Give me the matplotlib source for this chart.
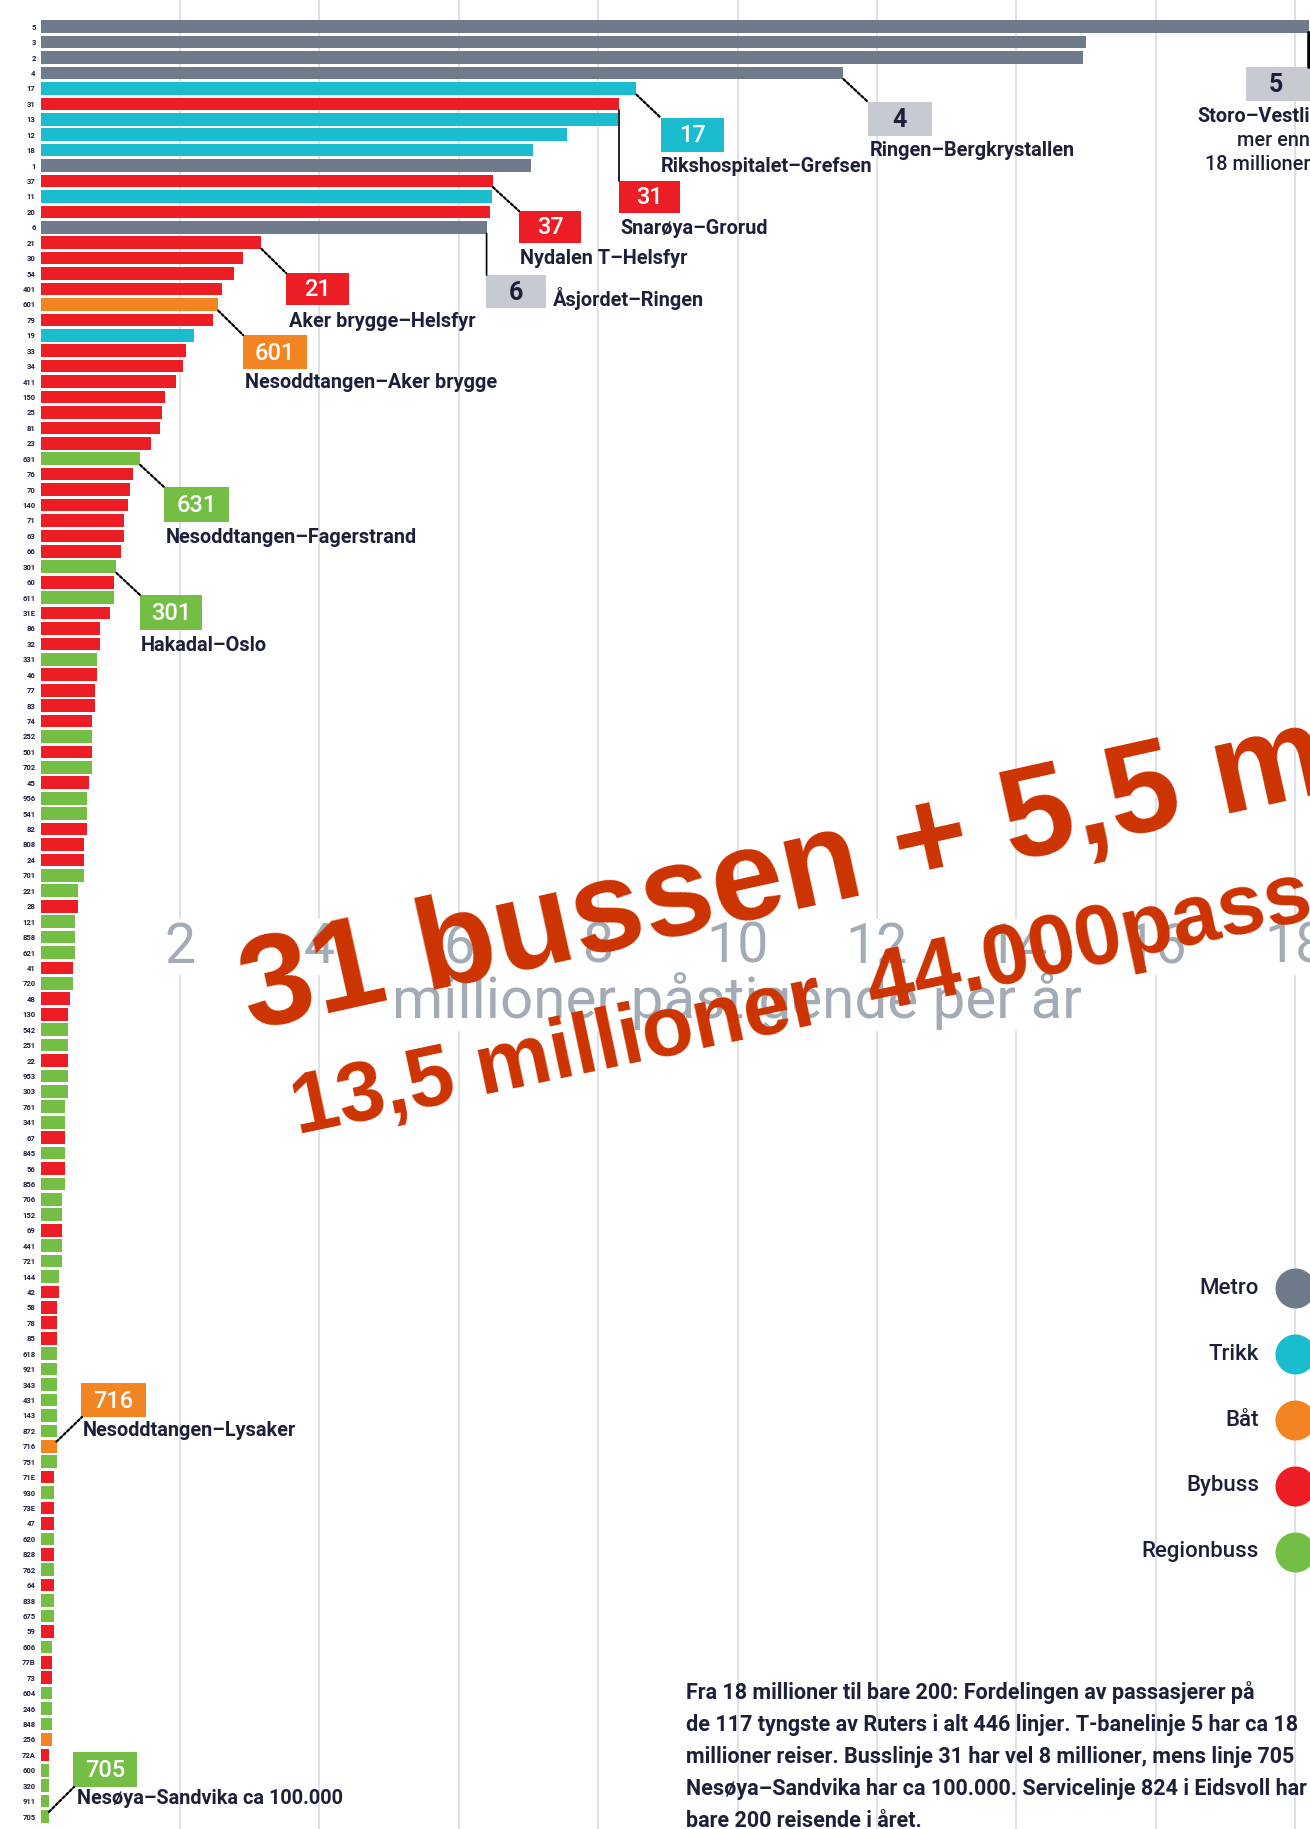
import matplotlib.pyplot as plt
import matplotlib.patches as patches
from matplotlib.patches import ConnectionPatch
from matplotlib.transforms import blended_transform_factory

# ---------------------------------------------
# data: the 117 busiest Ruter lines (million boardings per year)
# ---------------------------------------------
route_numbers = [
    "5", "3", "2", "4", "17", "31", "13", "12", "18", "1",
    "37", "11", "20", "6", "21", "30", "54", "401", "601", "79",
    "19", "33", "34", "411", "150", "25", "81", "23", "631", "76",
    "70", "140", "71", "63", "66", "301", "60", "611", "31E", "86",
    "32", "331", "46", "77", "83", "74", "252", "501", "702", "45",
    "956", "541", "82", "808", "24", "701", "221", "28", "121", "858",
    "621", "41", "720", "48", "130", "542", "251", "22", "953", "303",
    "761", "341", "67", "845", "56", "856", "706", "152", "69", "441",
    "721", "144", "42", "58", "78", "85", "618", "921", "343", "431",
    "143", "872", "716", "751", "71E", "930", "73E", "47", "620", "828",
    "762", "64", "838", "675", "59", "606", "77B", "73", "604", "246",
    "848", "256", "72A", "600", "320", "911", "705",
]
modes = [
    "M", "M", "M", "M", "T", "R", "T", "T", "T", "M",
    "R", "T", "R", "M", "R", "R", "R", "R", "B", "R",
    "T", "R", "R", "R", "R", "R", "R", "R", "G", "R",
    "R", "R", "R", "R", "R", "G", "R", "G", "R", "R",
    "R", "G", "R", "R", "R", "R", "G", "R", "G", "R",
    "G", "G", "R", "R", "R", "G", "G", "R", "G", "G",
    "G", "R", "G", "R", "R", "G", "G", "R", "G", "G",
    "G", "G", "R", "G", "R", "G", "G", "G", "R", "G",
    "G", "G", "R", "R", "R", "R", "G", "G", "G", "G",
    "G", "G", "B", "G", "R", "G", "R", "R", "G", "R",
    "G", "R", "G", "G", "R", "G", "R", "R", "G", "G",
    "G", "B", "R", "G", "G", "G", "G",
]
values = [
    18.2, 15.0, 14.95, 11.52, 8.55, 8.3, 8.28, 7.55, 7.07, 7.04,
    6.49, 6.48, 6.45, 6.4, 3.17, 2.9, 2.78, 2.6, 2.55, 2.48,
    2.2, 2.09, 2.05, 1.94, 1.78, 1.75, 1.71, 1.59, 1.43, 1.32,
    1.28, 1.25, 1.2, 1.2, 1.16, 1.09, 1.05, 1.05, 1.0, 0.85,
    0.85, 0.81, 0.81, 0.78, 0.78, 0.74, 0.74, 0.74, 0.74, 0.7,
    0.66, 0.66, 0.66, 0.62, 0.62, 0.62, 0.54, 0.54, 0.5, 0.5,
    0.5, 0.46, 0.46, 0.43, 0.39, 0.39, 0.39, 0.39, 0.39, 0.39,
    0.35, 0.35, 0.35, 0.35, 0.35, 0.35, 0.31, 0.31, 0.31, 0.31,
    0.31, 0.27, 0.27, 0.23, 0.23, 0.23, 0.23, 0.23, 0.23, 0.23,
    0.23, 0.23, 0.23, 0.23, 0.2, 0.2, 0.2, 0.2, 0.2, 0.2,
    0.2, 0.2, 0.2, 0.2, 0.2, 0.16, 0.16, 0.16, 0.16, 0.16,
    0.16, 0.16, 0.12, 0.12, 0.12, 0.12, 0.12,
]
x_ticks = [2, 4, 6, 8, 10, 12, 14, 16, 18]
mode_keys = ["M", "T", "B", "R", "G"]
mode_names = ["Metro", "Trikk", "Båt", "Bybuss", "Regionbuss"]
mode_colors = ["#6f7a8a", "#1bbccd", "#f28522", "#ec1d25", "#74be45"]

# ---------------------------------------------
# canvas / layout (pixel based, 1310 x 1829)
# ---------------------------------------------
W, H = 1310, 1829
X0, PXU = 40.5, 69.7  # pixel of value 0, pixels per million
ROW0, ROWP = 26.7, 15.43  # pixel centre of first row, row pitch
DARK = "#1c2038"
GRID = "#dde2e8"
TICKGRAY = "#a3abb5"
BOXGRAY = "#c7cad1"
DIN = "Roboto"
ROUTE_FS = 14.3


def fx(px):
    return px / W


def fy(py):
    return 1 - py / H


color_of = dict(zip(mode_keys, mode_colors))

fig = plt.figure(figsize=(W / 100, H / 100), dpi=100)
fig.patch.set_facecolor("white")

ax = fig.add_axes([X0 / W, 0, 1 - X0 / W, 1])
ax.set_xlim(0, (W - X0) / PXU)
ax.set_ylim((H - ROW0) / ROWP, -ROW0 / ROWP)
rows = list(range(len(values)))
ax.barh(rows, values, height=0.82, color=[color_of[m] for m in modes], zorder=2)

ax.set_yticks(rows)
ax.set_yticklabels(route_numbers, fontsize=5.5, fontweight="bold", color=DARK, family=DIN)
ax.tick_params(axis="y", length=0, pad=3.5)
ax.set_xticks(x_ticks)
ax.tick_params(axis="x", length=0, labelbottom=False)
ax.grid(axis="x", color=GRID, lw=1.4)
ax.grid(axis="y", visible=False)
ax.set_axisbelow(True)
for s in ax.spines.values():
    s.set_visible(False)

# tick numbers sit in the middle of the chart
mid = blended_transform_factory(ax.transData, fig.transFigure)
for v in x_ticks:
    ax.text(v, fy(947), str(v), transform=mid, ha="center", va="center",
            fontsize=40, color=TICKGRAY, family=DIN,
            bbox=dict(fc="white", ec="none", pad=1), zorder=3)
ax.text(10, fy(1001), "millioner påstigende per år", transform=mid,
        ha="center", va="center", fontsize=42, color=TICKGRAY, family=DIN,
        bbox=dict(fc="white", ec="none", pad=1), zorder=3)

# ---------------------------------------------
# callouts
# ---------------------------------------------
callouts = [
    # row, box (x0, y0, x1, y1), leader, number x, route text lines
    dict(row=0, box=(1246, 67, 1330, 101), lead="vthick", numx=1276),
    dict(row=3, box=(868, 102, 932, 136), lead="diag",
         text=[("Ringen–Bergkrystallen", 870, 151)]),
    dict(row=4, box=(661, 118, 724, 152), lead="diag",
         text=[("Rikshospitalet–Grefsen", 661, 167)]),
    dict(row=5, box=(619, 181, 680, 213), lead="vert",
         text=[("Snarøya–Grorud", 620, 229)]),
    dict(row=10, box=(519, 211, 581, 243), lead="diag",
         text=[("Nydalen T–Helsfyr", 520, 259)]),
    dict(row=13, box=(486, 275, 546, 308), lead="vert",
         text=[("Åsjordet–Ringen", 553, 299)]),
    dict(row=14, box=(286, 273, 349, 305), lead="diag",
         text=[("Aker brygge–Helsfyr", 289, 321)]),
    dict(row=18, box=(243, 335, 307, 369), lead="diag",
         text=[("Nesoddtangen–Aker brygge", 245, 383)]),
    dict(row=28, box=(164, 487, 229, 522), lead="diag",
         text=[("Nesoddtangen–Fagerstrand", 166, 537)]),
    dict(row=35, box=(140, 595, 202, 630), lead="diag",
         text=[("Hakadal–Oslo", 141, 645)]),
    dict(row=92, box=(81, 1383, 146, 1417), lead="up",
         text=[("Nesoddtangen–Lysaker", 83, 1431)]),
    dict(row=116, box=(73, 1752, 137, 1787), lead="up",
         text=[("Nesøya–Sandvika ca 100.000", 77, 1799)]),
]

for c in callouts:
    r = c["row"]
    x0, y0, x1, y1 = c["box"]
    metro = modes[r] == "M"
    fc = BOXGRAY if metro else color_of[modes[r]]
    fig.add_artist(patches.Rectangle((fx(x0), fy(y1)), (x1 - x0) / W, (y1 - y0) / H,
                                     transform=fig.transFigure, fc=fc, ec="none", zorder=4))
    nx = c.get("numx", (x0 + x1) / 2)
    fig.text(fx(nx), fy((y0 + y1) / 2 + 1), route_numbers[r], ha="center", va="center",
             fontsize=18 if metro else 17, family=DIN,
             fontweight="bold" if metro else "medium",
             color=DARK if metro else "white", zorder=5)

    lead = c["lead"]
    if lead == "diag":
        con = ConnectionPatch(xyA=(values[r], r + 0.4), coordsA=ax.transData,
                              xyB=(fx(x0), fy(y0)), coordsB=fig.transFigure,
                              color="black", lw=1.6, ls=(0, (1.2, 1.0)), zorder=4)
    elif lead == "up":
        con = ConnectionPatch(xyA=(values[r], r - 0.3), coordsA=ax.transData,
                              xyB=(fx(x0 + 1), fy(y1)), coordsB=fig.transFigure,
                              color="black", lw=1.6, ls=(0, (1.2, 1.0)), zorder=4)
    else:
        con = ConnectionPatch(xyA=(values[r], r + 0.4), coordsA=ax.transData,
                              xyB=(values[r], fy(y0)), coordsB=mid,
                              color="black", lw=2.6 if lead == "vthick" else 1.2,
                              zorder=4)
    fig.add_artist(con)

    for txt, tx, ty in c.get("text", []):
        fig.text(fx(tx), fy(ty), txt, ha="left", va="center", fontsize=ROUTE_FS,
                 fontweight="bold", family=DIN, color=DARK, zorder=5)

# text under the "5" box
for txt, ty, wt in [("Storo–Vestli", 116, "bold"), ("mer enn", 141, "medium"),
                    ("18 millioner", 164, "medium")]:
    fig.text(fx(1310), fy(ty), txt, ha="right", va="center", fontsize=ROUTE_FS,
             fontweight=wt, family=DIN, color=DARK, zorder=5)

# ---------------------------------------------
# legend
# ---------------------------------------------
for i, (name, col) in enumerate(zip(mode_names, mode_colors)):
    ly = 1288 + 66 * i
    fig.text(fx(1259), fy(ly), name, ha="right", va="center", fontsize=16,
             family=DIN, fontweight="medium", color=DARK)
    ax.scatter([fx(1295)], [fy(ly)], s=830, color=col, transform=fig.transFigure,
               clip_on=False, zorder=5, linewidths=0)

# ---------------------------------------------
# caption
# ---------------------------------------------
caption = [
    "Fra 18 millioner til bare 200: Fordelingen av passasjerer på",
    "de 117 tyngste av Ruters i alt 446 linjer. T-banelinje 5 har ca 18",
    "millioner reiser. Busslinje 31 har vel 8 millioner, mens linje 705",
    "Nesøya–Sandvika har ca 100.000. Servicelinje 824 i Eidsvoll har",
    "bare 200 reisende i året.",
]
for k, line in enumerate(caption):
    fig.text(fx(686), fy(1693 + 32 * k), line, ha="left", va="center",
             fontsize=15.5, fontweight="bold", family=DIN, color=DARK)

# ---------------------------------------------
# red overlay text
# ---------------------------------------------
fig.text(fx(251), fy(1030), "31 bussen + 5,5 millioner", rotation=12.5,
         rotation_mode="anchor", ha="left", va="baseline", fontsize=93,
         fontweight="bold", family="Liberation Sans", color="#cc3300", zorder=10)
fig.text(fx(297), fy(1134), "13,5 millioner  44.000passasjerer", rotation=12,
         rotation_mode="anchor", ha="left", va="baseline", fontsize=61,
         fontweight="bold", family="Liberation Sans", color="#cc3300", zorder=10)

fig.savefig("out.png", dpi=100, facecolor="white")
